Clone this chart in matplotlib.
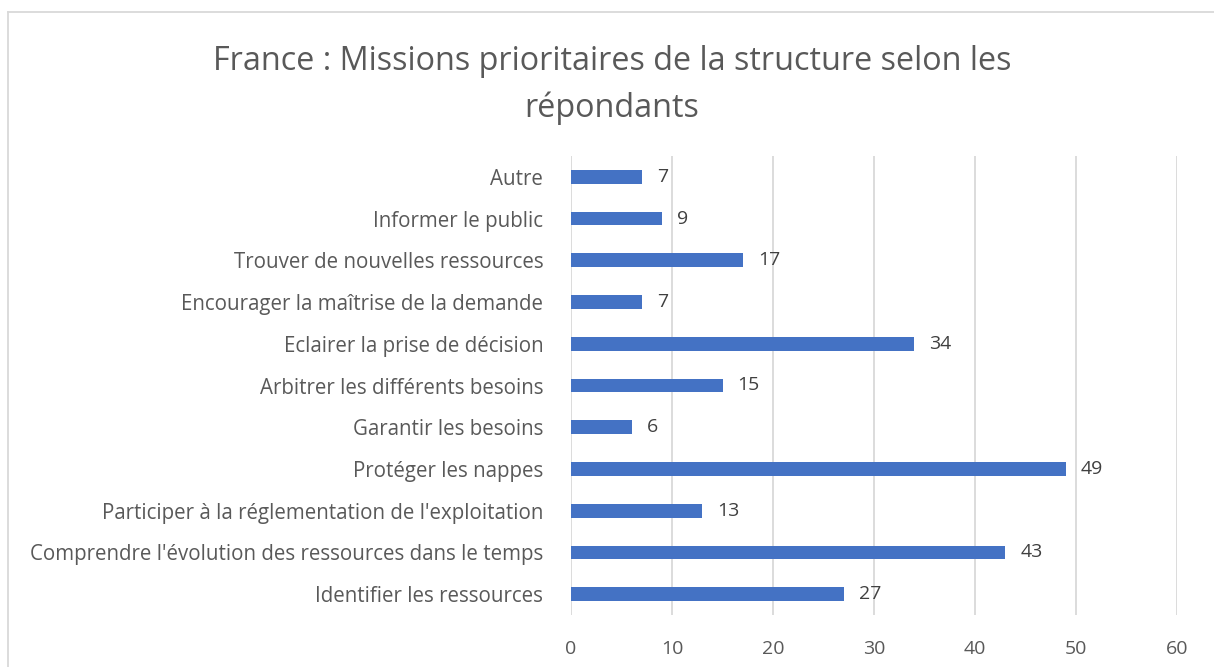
import matplotlib
matplotlib.use("Agg")
import matplotlib.pyplot as plt
from matplotlib.lines import Line2D

categories = [
    "Identifier les ressources",
    "Comprendre l'évolution des ressources dans le temps",
    "Participer à la réglementation de l'exploitation",
    "Protéger les nappes",
    "Garantir les besoins",
    "Arbitrer les différents besoins",
    "Eclairer la prise de décision",
    "Encourager la maîtrise de la demande",
    "Trouver de nouvelles ressources",
    "Informer le public",
    "Autre",
]
values = [27, 43, 13, 49, 6, 15, 34, 7, 17, 9, 7]
xticks = [0, 10, 20, 30, 40, 50, 60]
title = "France : Missions prioritaires de la structure selon les\nrépondants"

plt.rcParams['font.family'] = ['Open Sans', 'DejaVu Sans']
fig = plt.figure(figsize=(12.14, 6.67), dpi=100)
ax = fig.add_axes([571/1214, 1-615/667, (1177-571)/1214, (615-156)/667])

y = list(range(len(categories)))
ax.barh(y, values, height=0.33, color="#4472C4", zorder=3)
for yi, v in zip(y, values):
    ax.text(v + 1.5, yi, str(v), va="center", ha="left", fontsize=14, color="#404040")

ax.set_xlim(0, 60)
ax.set_ylim(-0.5, len(categories) - 0.5)
ax.set_xticks(xticks)
ax.set_xticklabels([str(t) for t in xticks], fontsize=14, color="#595959")
ax.set_yticks(y)
ax.set_yticklabels(categories, fontsize=14.8, color="#595959")
ax.tick_params(axis="both", length=0)
ax.tick_params(axis="y", pad=20)
ax.tick_params(axis="x", pad=18)
ax.grid(axis="x", color="#D9D9D9", linewidth=1.3, zorder=0)
for s in ax.spines.values():
    s.set_visible(False)

fig.text(612/1214, 1-85/667, title, ha="center", va="center", fontsize=23.3,
         color="#595959", linespacing=1.5)

# chart border (left and top visible)
fig.add_artist(Line2D([8/1214, 8/1214], [0, 1-12/667], transform=fig.transFigure,
                      color="#D9D9D9", linewidth=1.3))
fig.add_artist(Line2D([8/1214, 1], [1-12/667, 1-12/667], transform=fig.transFigure,
                      color="#D9D9D9", linewidth=1.3))

fig.savefig("out.png", dpi=100, facecolor="white")
